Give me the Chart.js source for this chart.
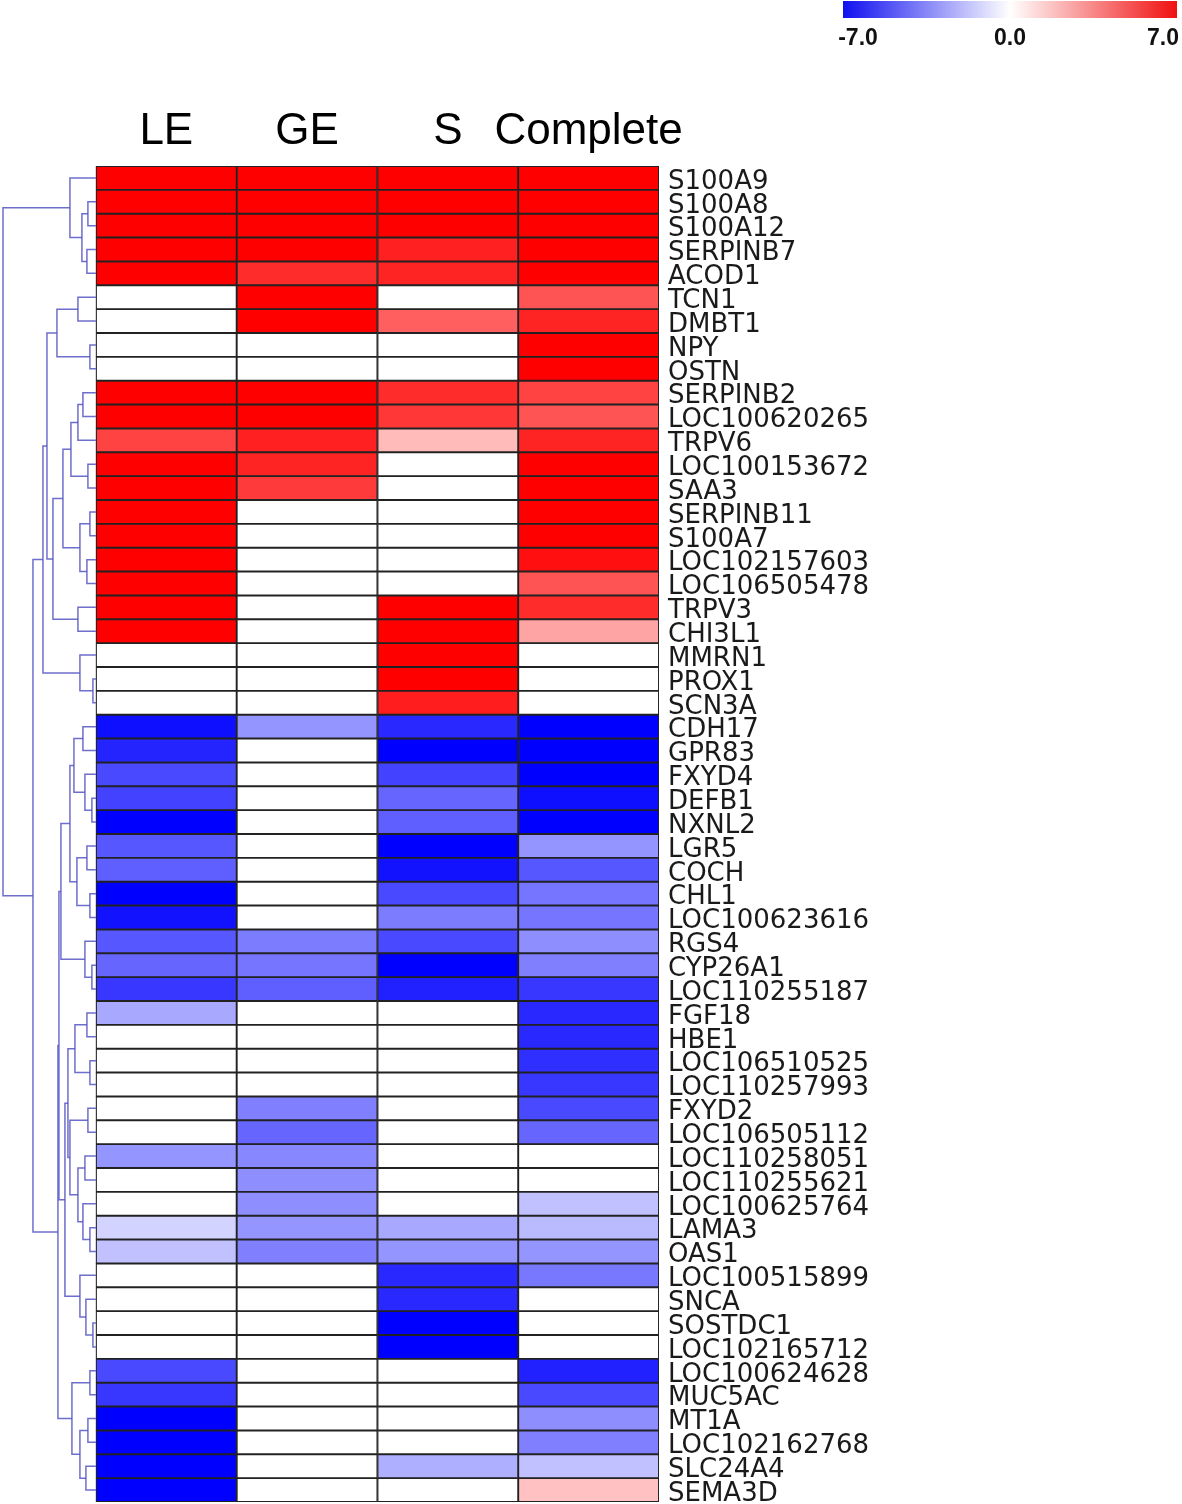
<!DOCTYPE html>
<html>
<head>
<meta charset="utf-8">
<script src="https://cdn.jsdelivr.net/npm/chart.js@4.4.1/dist/chart.umd.min.js"></script>
<style>
  html, body { margin: 0; padding: 0; background: #fff; }
  #wrap { width: 1182px; height: 1504px; }
</style>
</head>
<body>
<div id="wrap"><canvas id="myChart" width="1182" height="1504"></canvas></div>
<script>
const columns = ["LE", "GE", "S", "Complete"];

const genes = [
  "S100A9", "S100A8", "S100A12", "SERPINB7", "ACOD1", "TCN1", "DMBT1", "NPY",
  "OSTN", "SERPINB2", "LOC100620265", "TRPV6", "LOC100153672", "SAA3",
  "SERPINB11", "S100A7", "LOC102157603", "LOC106505478", "TRPV3", "CHI3L1",
  "MMRN1", "PROX1", "SCN3A", "CDH17", "GPR83", "FXYD4", "DEFB1", "NXNL2",
  "LGR5", "COCH", "CHL1", "LOC100623616", "RGS4", "CYP26A1", "LOC110255187",
  "FGF18", "HBE1", "LOC106510525", "LOC110257993", "FXYD2", "LOC106505112",
  "LOC110258051", "LOC110255621", "LOC100625764", "LAMA3", "OAS1",
  "LOC100515899", "SNCA", "SOSTDC1", "LOC102165712", "LOC100624628", "MUC5AC",
  "MT1A", "LOC102162768", "SLC24A4", "SEMA3D"
];

// log2 fold change per column (0 = not significant, drawn white)
const valuesLE = [
  7, 7, 7, 7, 7, 0, 0, 0, 0, 7, 7, 5.2, 7, 7, 7, 7, 7, 7, 7, 7,
  0, 0, 0, -6.6, -6, -5, -5.2, -7, -4.6, -4.4, -7, -6.5, -4.6, -4.2, -5.5,
  -2.4, 0, 0, 0, 0, 0, -2.9, 0, 0, -1.2, -1.7, 0, 0, 0, 0,
  -5, -5.5, -7, -7, -7, -7
];
const valuesGE = [
  7, 7, 7, 7, 5.8, 7, 7, 0, 0, 7, 7, 6.1, 6, 5.4, 0, 0, 0, 0, 0, 0,
  0, 0, 0, -2.9, 0, 0, 0, 0, 0, 0, 0, 0, -3.6, -3.8, -4.4,
  0, 0, 0, 0, -3.5, -4.2, -3.3, -3.1, -3.1, -2.9, -3.5, 0, 0, 0, 0,
  0, 0, 0, 0, 0, 0
];
const valuesS = [
  7, 7, 7, 6.1, 6, 0, 4.4, 0, 0, 5.8, 5.5, 1.9, 0, 0, 0, 0, 0, 0, 7, 7,
  7, 7, 6.2, -5.9, -7, -5.2, -4.2, -4.4, -7, -6.5, -5, -3.6, -5, -7, -6.1,
  0, 0, 0, 0, 0, 0, 0, 0, 0, -2.4, -2.9, -5.9, -5.9, -7, -7,
  0, 0, 0, 0, -2.2, 0
];
const valuesComplete = [
  7, 7, 7, 7, 7, 4.7, 6, 7, 7, 5.2, 4.7, 6, 7, 7, 7, 7, 6.6, 4.7, 5.8, 2.5,
  0, 0, 0, -7, -7, -7, -6.6, -7, -2.9, -4.6, -3.8, -3.8, -3.1, -3.5, -5.5,
  -5.9, -5.9, -5.7, -5.5, -5, -4.2, 0, 0, -1.7, -1.9, -2.9, -3.7, 0, 0, 0,
  -6.1, -5, -3.1, -3.5, -1.7, 1.7
];

const colorTicks = [-7, 0, 7];

// row dendrogram: [mergeDistance, left, right]; leaves are row indexes
const dendrogram = [93,
  [26, 0, [14, [8, 1, 2], [9, 3, 4]]],
  [63,
    [53,
      [49,
        [39, [18, 5, 6], [6, 7, 8]],
        [43,
          [33,
            [25, [18, [13, 9, 10], 11], [8, 12, 13]],
            [16, [6, 14, 15], [9, 16, 17]]],
          [18, 18, 19]]],
      [16, 20, [3, 21, 22]]],
    [38,
      [37,
        [35,
          [26,
            [22, [13, 23, 24], [11, 25, [4, 26, 27]]],
            [19, [9, 28, 29], [6, 30, 31]]],
          [11, 32, [4, 33, 34]]],
        [31,
          [28,
            [21, [9, 35, 36], [6, 37, 38]],
            [26, [8, 39, 40], [18, [11, 41, 42], [13, 43, [6, 44, 45]]]]],
          [16, 46, [10, 47, [3, 48, 49]]]]],
      [24, [6, 50, 51], [16, [8, 52, 53], [10, 54, 55]]]]]];

const DENDRO_SPAN = 0.66;
const DENDRO_MAX = 93;

function cellColor(v) {
  if (v === 0) return "#ffffff";
  const t = Math.min(Math.abs(v) / 7, 1);
  const c = Math.round(255 * (1 - t));
  return v > 0 ? `rgb(255,${c},${c})` : `rgb(${c},${c},255)`;
}

const allValues = [valuesLE, valuesGE, valuesS, valuesComplete];

const datasets = allValues.map((vals, c) => ({
  label: columns[c],
  data: genes.map(() => [c, c + 1]),
  backgroundColor: vals.map(cellColor),
  borderColor: "#222",
  borderWidth: 1.3,
  borderSkipped: false,
  grouped: false,
  barPercentage: 1,
  categoryPercentage: 1
}));

const dendroPlugin = {
  id: "dendro",
  afterDatasetsDraw(chart) {
    const xs = chart.scales.x, ys = chart.scales.y, ctx = chart.ctx;
    const px = d => xs.getPixelForValue(-d / DENDRO_MAX * DENDRO_SPAN);
    const py = r => ys.getPixelForValue(r);
    ctx.save();
    ctx.strokeStyle = "rgba(85,85,195,0.85)";
    ctx.lineWidth = 1.5;
    function walk(node) {
      if (typeof node === "number") return { y: node, d: 0 };
      const a = walk(node[1]), b = walk(node[2]);
      const d = node[0];
      ctx.beginPath();
      ctx.moveTo(px(a.d), py(a.y));
      ctx.lineTo(px(d), py(a.y));
      ctx.lineTo(px(d), py(b.y));
      ctx.lineTo(px(b.d), py(b.y));
      ctx.stroke();
      return { y: (a.y + b.y) / 2, d: d };
    }
    walk(dendrogram);
    ctx.restore();
  }
};

const colorBarPlugin = {
  id: "colorbar",
  afterDraw(chart) {
    const ctx = chart.ctx;
    const x0 = 843, x1 = 1177, y0 = 1, h = 17;
    const g = ctx.createLinearGradient(x0, 0, x1, 0);
    g.addColorStop(0, "#1010f0");
    g.addColorStop(0.5, "#ffffff");
    g.addColorStop(1, "#f01010");
    ctx.save();
    ctx.fillStyle = g;
    ctx.fillRect(x0, y0, x1 - x0, h);
    ctx.fillStyle = "#111";
    ctx.font = "bold 23px 'Liberation Sans', Arial, sans-serif";
    ctx.textBaseline = "middle";
    ctx.textAlign = "center";
    const pos = [x0 + 15, (x0 + x1) / 2, x1 - 14];
    colorTicks.forEach((t, i) => ctx.fillText(t.toFixed(1), pos[i], 39));
    ctx.restore();
  }
};

new Chart("myChart", {
  type: "bar",
  data: { labels: genes, datasets: datasets },
  options: {
    indexAxis: "y",
    responsive: false,
    animation: false,
    layout: { padding: { left: 3, top: 66, right: 0, bottom: 2 } },
    plugins: { legend: { display: false }, tooltip: { enabled: false } },
    scales: {
      x: {
        type: "linear",
        position: "top",
        min: -DENDRO_SPAN,
        max: 4,
        grid: { display: false, drawTicks: false },
        border: { display: false },
        afterBuildTicks: s => { s.ticks = columns.map((_, i) => ({ value: i + 0.5 })); },
        afterFit: s => { s.height = 100; s.paddingLeft = 0; s.paddingRight = 0; },
        ticks: {
          autoSkip: false,
          maxRotation: 0,
          padding: 8,
          color: "#000",
          font: { family: "'Liberation Sans', Arial, sans-serif", size: 44 },
          callback: v => columns[Math.round(v - 0.5)]
        }
      },
      y: {
        type: "category",
        position: "right",
        grid: { display: false, drawTicks: false },
        border: { display: false },
        afterFit: s => { s.width = 523; s.paddingTop = 0; s.paddingBottom = 0; },
        ticks: {
          autoSkip: false,
          padding: 9,
          labelOffset: 4,
          color: "#1a1a1a",
          font: { family: "'DejaVu Sans', sans-serif", size: 26 }
        }
      }
    }
  },
  plugins: [dendroPlugin, colorBarPlugin]
});
</script>
</body>
</html>
